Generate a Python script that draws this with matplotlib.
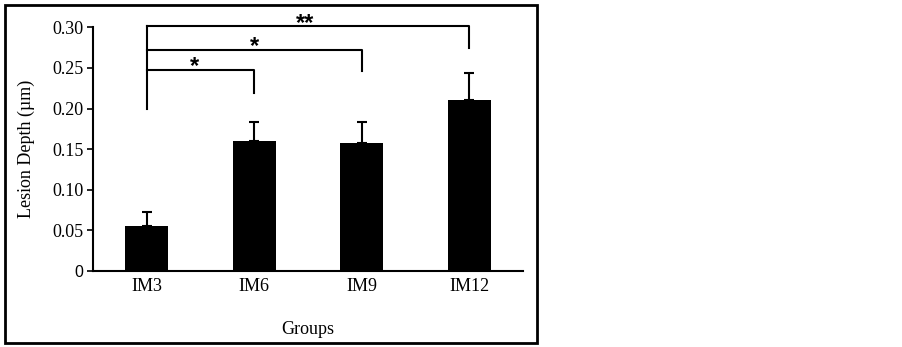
import matplotlib
matplotlib.use("Agg")
import matplotlib.pyplot as plt
from matplotlib.patches import Rectangle

groups = ["IM3", "IM6", "IM9", "IM12"]
depth_mean = [0.056, 0.160, 0.158, 0.210]
depth_err = [0.017, 0.024, 0.025, 0.034]
yticks = [0, 0.05, 0.10, 0.15, 0.20, 0.25, 0.30]
ytick_labels = ["0", "0.05", "0.10", "0.15", "0.20", "0.25", "0.30"]

# significance brackets: (from, to, bar height, drop end, label)
brackets = [
    (0, 1, 0.247, 0.219, "*"),
    (0, 2, 0.272, 0.246, "*"),
    (0, 3, 0.301, 0.275, "**"),
]
bracket_start = 0.200

plt.rcParams["font.family"] = ["Liberation Serif", "DejaVu Serif"]

fig = plt.figure(figsize=(9.02, 3.47), dpi=100)
ax = fig.add_axes([93 / 902, 76 / 347, 430 / 902, 243.7 / 347])

x = list(range(len(groups)))
ax.bar(x, depth_mean, width=0.4, color="black", zorder=2)
ax.errorbar(x, depth_mean, yerr=[[0] * len(x), depth_err], fmt="none",
            ecolor="black", elinewidth=1.5, capsize=3.5, capthick=1.5, zorder=1)

ax.set_xlim(-0.5, len(groups) - 0.5)
ax.set_ylim(0, 0.30)
ax.set_yticks(yticks)
ax.set_yticklabels(ytick_labels, fontsize=13)
zero = ax.get_yticklabels()[0]
zero.set_fontfamily("Liberation Sans")
zero.set_fontsize(11.5)
ax.set_xticks(x)
ax.set_xticklabels(groups, fontsize=13)
ax.tick_params(axis="x", length=0, pad=5)
ax.tick_params(axis="y", length=4, width=1.2, pad=3)
for s in ["top", "right"]:
    ax.spines[s].set_visible(False)
for s in ["left", "bottom"]:
    ax.spines[s].set_linewidth(1.5)

ax.set_ylabel("Lesion Depth (\u00b5m)", fontsize=13, labelpad=12)
ax.set_xlabel("Groups", fontsize=13, labelpad=19)

# brackets
ax.plot([0, 0], [bracket_start, max(b[2] for b in brackets)], color="black",
        lw=1.5, clip_on=False)
for i, j, h, drop, lab in brackets:
    ax.plot([i, j, j], [h, h, drop], color="black", lw=1.5, clip_on=False)
for (i, j, h, drop, lab), xt in zip(brackets, [0.44, 1.0, 1.47]):
    ax.text(xt, h - 0.010, lab, ha="center", va="bottom", fontsize=17,
            fontweight="bold", family="Liberation Sans", clip_on=False)

fig.patches.append(Rectangle((5 / 902, 4 / 347), 532 / 902, 338 / 347,
                             transform=fig.transFigure, fill=False,
                             edgecolor="black", linewidth=2))

fig.savefig("out.png", dpi=100)
